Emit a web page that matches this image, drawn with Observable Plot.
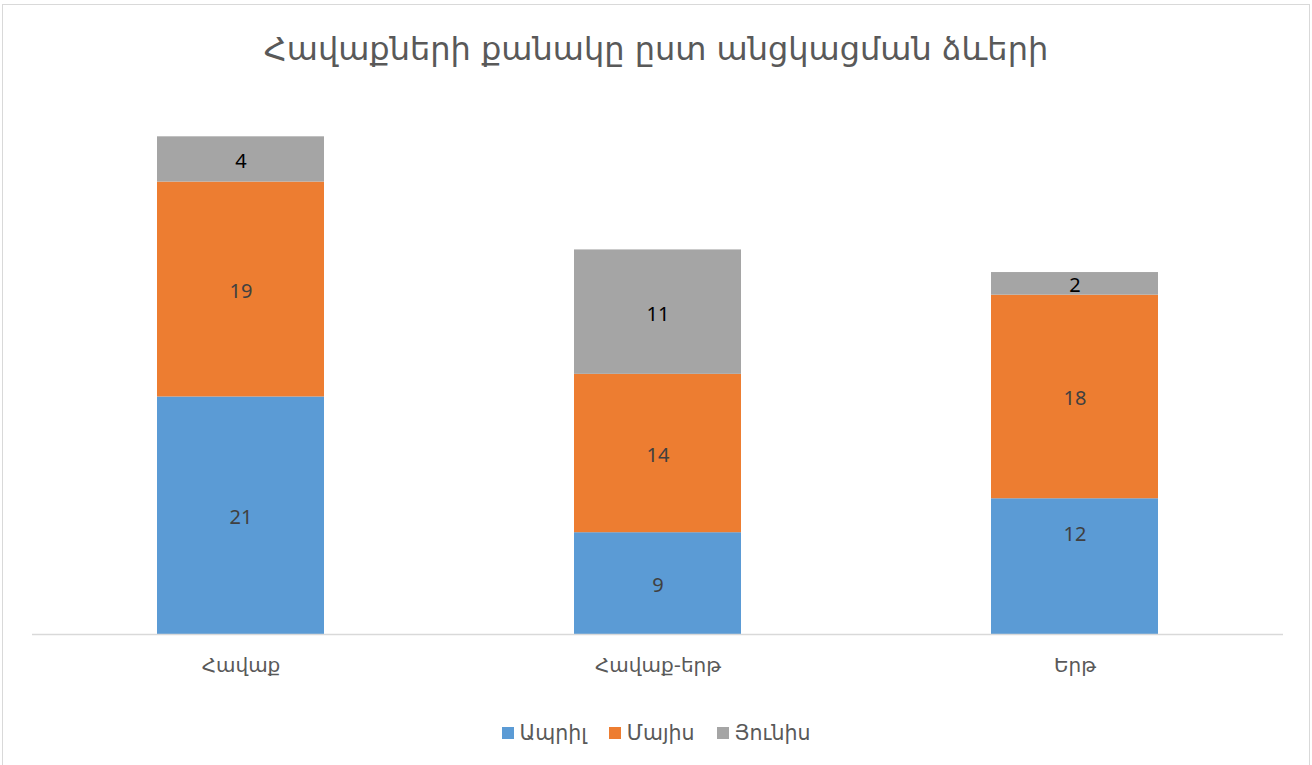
<!DOCTYPE html>
<html>
<head>
<meta charset="utf-8">
<script src="https://cdn.jsdelivr.net/npm/d3@7"></script>
<script src="https://cdn.jsdelivr.net/npm/@observablehq/plot@0.6"></script>
<style>
  html, body { margin: 0; padding: 0; background: #fff; overflow: hidden; }
  #frame { position: absolute; left: 2px; top: 4px; width: 1308px; height: 790px; border: 1px solid #d9d9d9; box-sizing: border-box; }
  #wrap { position: absolute; left: 0; top: 0; width: 1312px; height: 765px; font-family: "Noto Sans", "DejaVu Sans", sans-serif; }
  #title { position: absolute; left: 0; top: 0; width: 1312px; height: 90px; text-align: center; line-height: 98px; font-size: 32px; color: #595959; font-family: "DejaVu Sans", sans-serif; }
  #chart { position: absolute; left: 0; top: 90px; }
  #legend { position: absolute; left: 0; top: 700px; width: 1312px; height: 65px; display: flex; justify-content: center; align-items: center; gap: 22px; font-size: 20.5px; color: #595959; font-family: "DejaVu Sans", sans-serif; }
  .item { display: flex; align-items: center; gap: 6px; }
  .sw { width: 12px; height: 12px; display: inline-block; }
</style>
</head>
<body>
<div id="frame"></div>
<div id="wrap">
  <div id="title"></div>
  <div id="chart"></div>
  <div id="legend"></div>
</div>
<script>
const title = "Հավաքների քանակը ըստ անցկացման ձևերի";
const categories = ["Հավաք", "Հավաք-երթ", "Երթ"];
const seriesNames = ["Ապրիլ", "Մայիս", "Յունիս"];
const seriesColors = ["#5B9BD5", "#ED7D31", "#A5A5A5"];
const labelColors = ["#404040", "#404040", "#000000"];
const april = [21, 9, 12];
const may = [19, 14, 18];
const june = [4, 11, 2];

const values = [april, may, june];
const data = [];
seriesNames.forEach((s, si) => {
  categories.forEach((c, ci) => {
    data.push({category: c, series: s, value: values[si][ci], labelColor: labelColors[si]});
  });
});

document.getElementById("title").textContent = title;

// In the reference, the label of the last blue segment was dragged upward.
const isMoved = d => d.category === categories[2] && d.series === seriesNames[0];

const labelOpts = {x: "category", y: "value", z: "series", order: seriesNames, text: d => String(d.value), fill: "labelColor", fontSize: 20};

const plot = Plot.plot({
  width: 1312,
  height: 610,
  marginLeft: 32,
  marginRight: 29,
  marginTop: 35,
  marginBottom: 66,
  style: {fontFamily: "'Noto Sans', 'DejaVu Sans', sans-serif", background: "transparent"},
  x: {domain: categories, paddingInner: 0.6, paddingOuter: 0.3},
  y: {domain: [0, 45], axis: null},
  color: {domain: seriesNames, range: seriesColors},
  marks: [
    Plot.barY(data, {x: "category", y: "value", fill: "series", order: seriesNames}),
    Plot.ruleY([0], {stroke: "#d9d9d9", strokeWidth: 1.5}),
    Plot.axisX({tickSize: 0, tickPadding: 23, fontSize: 20, fill: "#595959", label: null, fontFamily: "DejaVu Sans, sans-serif"}),
    Plot.text(data, Plot.filter(d => !isMoved(d), Plot.stackY({...labelOpts, dy: 2}))),
    Plot.text(data, Plot.filter(isMoved, Plot.stackY({...labelOpts, dy: -32})))
  ]
});
document.getElementById("chart").appendChild(plot);

const legend = document.getElementById("legend");
seriesNames.forEach((s, i) => {
  const item = document.createElement("span");
  item.className = "item";
  const sw = document.createElement("span");
  sw.className = "sw";
  sw.style.background = seriesColors[i];
  const t = document.createElement("span");
  t.textContent = s;
  item.appendChild(sw);
  item.appendChild(t);
  legend.appendChild(item);
});
</script>
</body>
</html>
